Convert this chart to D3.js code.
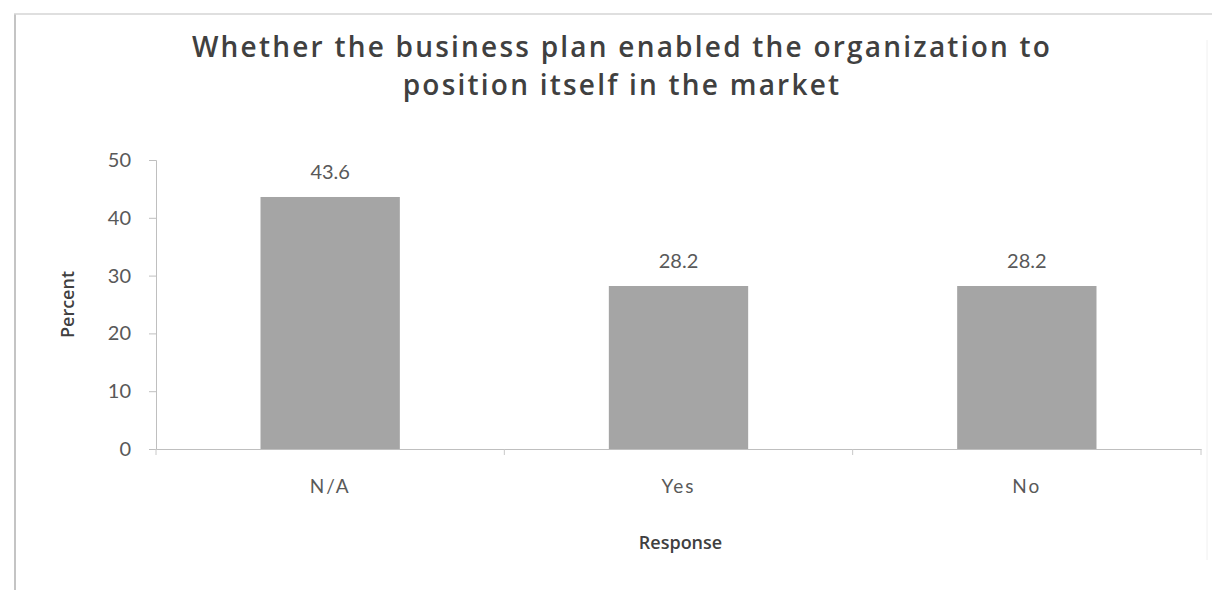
<!DOCTYPE html>
<html>
<head>
<meta charset="utf-8">
<script src="https://cdn.jsdelivr.net/npm/d3@7"></script>
<style>
  html, body { margin: 0; padding: 0; background: #fff; }
  svg { display: block; }
</style>
</head>
<body>
<svg id="chart" width="1226" height="590"></svg>
<script>
// Survey responses and their share of respondents (%)
const categories = ["N/A", "Yes", "No"];
const percents = [43.6, 28.2, 28.2];
const yTicks = [0, 10, 20, 30, 40, 50];
const titleLines = [
  "Whether the business plan enabled the organization to",
  "position itself in the market"
];
const xTitle = "Response";
const yTitle = "Percent";

const svg = d3.select("#chart");
const W = 1226, H = 590;
const plot = { left: 156, right: 1201, top: 160, bottom: 449 };
const font = "Lato, 'Open Sans', sans-serif";
const titleFont = "'Open Sans', Lato, sans-serif";

// chart frame (left and top edges of the outer box, faint right edge)
svg.append("line").attr("x1", 15).attr("x2", 15).attr("y1", 14).attr("y2", H)
  .attr("stroke", "#c4c4c4").attr("stroke-width", 2);
svg.append("line").attr("x1", 14).attr("x2", 1212).attr("y1", 14).attr("y2", 14)
  .attr("stroke", "#d4d4d4").attr("stroke-width", 1.5);
svg.append("line").attr("x1", 1207).attr("x2", 1207).attr("y1", 40).attr("y2", 560)
  .attr("stroke", "#f0f0f0").attr("stroke-width", 1);

const x = d3.scaleBand().domain(categories)
  .range([plot.left, plot.right]).paddingInner(0.6).paddingOuter(0.3);
const y = d3.scaleLinear().domain([0, 50]).range([plot.bottom, plot.top]);

// y axis
const yAxis = svg.append("g").attr("transform", `translate(${plot.left},0)`)
  .call(d3.axisLeft(y).tickValues(yTicks).tickSize(7).tickPadding(18));
yAxis.select(".domain").attr("stroke", "#bfbfbf");
yAxis.selectAll(".tick line").attr("stroke", "#bfbfbf");
yAxis.selectAll(".tick text").attr("fill", "#595959")
  .style("font-family", font).style("font-size", "20px");

// x axis with tick marks between categories
const xStep = x.step();
const xAxis = svg.append("g").attr("transform", `translate(0,${plot.bottom})`)
  .call(d3.axisBottom(x).tickSize(0).tickPadding(31));
xAxis.select(".domain").attr("stroke", "#bfbfbf");
xAxis.selectAll(".tick text").attr("fill", "#595959")
  .style("font-family", font).style("font-size", "19px")
  .style("letter-spacing", "2px");
const bounds = d3.range(categories.length + 1).map(i => plot.left + i * xStep);
xAxis.selectAll(".bound").data(bounds).join("line").attr("class", "bound")
  .attr("x1", d => d).attr("x2", d => d).attr("y1", 0).attr("y2", 6)
  .attr("stroke", "#c8c8c8");

// bars
svg.append("g").selectAll("rect").data(categories).join("rect")
  .attr("x", d => x(d))
  .attr("width", x.bandwidth())
  .attr("y", (d, i) => y(percents[i]))
  .attr("height", (d, i) => y(0) - y(percents[i]))
  .attr("fill", "#a5a5a5");

// value labels
svg.append("g").selectAll("text").data(categories).join("text")
  .attr("x", d => x(d) + x.bandwidth() / 2)
  .attr("y", (d, i) => y(percents[i]) - 18)
  .attr("text-anchor", "middle")
  .attr("fill", "#595959")
  .style("font-family", font).style("font-size", "20px")
  .text((d, i) => percents[i].toFixed(1));

// title: 28px type, lightly tracked so the first line spans about 860px
const titleX = 622;
const title = svg.append("text").attr("x", titleX).attr("y", 57).attr("text-anchor", "middle")
  .attr("fill", "#404040").style("font-family", titleFont)
  .style("font-size", "28px").style("font-weight", "600");
title.selectAll("tspan").data(titleLines).join("tspan")
  .attr("x", titleX).attr("dy", (d, i) => i === 0 ? 0 : 38).text(d => d);
const firstLen = title.select("tspan").node().getComputedTextLength();
const track = Math.max(0, (860 - firstLen) / titleLines[0].length);
title.style("letter-spacing", track.toFixed(2) + "px");

// axis titles
svg.append("text").attr("x", (plot.left + plot.right) / 2 + 2).attr("y", 549)
  .attr("text-anchor", "middle").attr("fill", "#404040")
  .style("font-family", titleFont).style("font-size", "18px").style("font-weight", "600")
  .text(xTitle);
svg.append("text")
  .attr("transform", `translate(74,${(plot.top + plot.bottom) / 2}) rotate(-90)`)
  .attr("text-anchor", "middle").attr("fill", "#404040")
  .style("font-family", titleFont).style("font-size", "18px").style("font-weight", "600")
  .text(yTitle);
</script>
</body>
</html>
